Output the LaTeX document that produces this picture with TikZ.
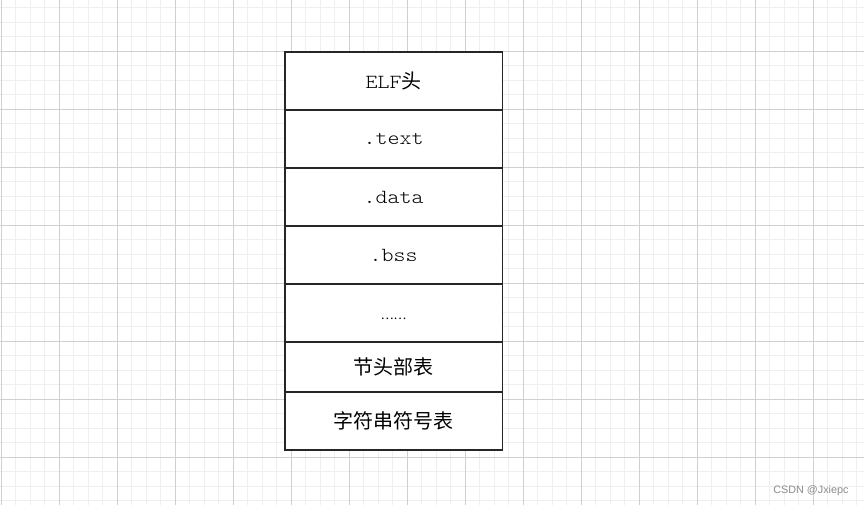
\documentclass[tikz,border=0pt]{standalone}
\usepackage{fontspec}
\newfontfamily\cour[FakeStretch=1.14]{Latin Modern Mono Light}
\newfontfamily\cjk{Noto Sans CJK SC}
\newfontfamily\wmfont{Liberation Sans}
\definecolor{minorgrid}{HTML}{EFEFEF}
\definecolor{majorgrid}{HTML}{D0D0D0}
\definecolor{boxline}{HTML}{262626}
\begin{document}
\begin{tikzpicture}[x=1pt,y=-1pt,
  minorline/.style={draw=minorgrid,line width=1pt},
  majorline/.style={draw=majorgrid,line width=1pt},
  cell/.style={draw=boxline,line width=1.3pt,fill=white,minimum width=217.3pt,inner sep=0pt,
    font=\fontsize{20}{24}\selectfont},
  watermark/.style={text=black!45,font=\wmfont\fontsize{10.8}{13}\selectfont,inner sep=0pt}]
\useasboundingbox (0,0) rectangle (864,505);
\fill[white] (0,0) rectangle (864,505);
\foreach \x in {1.3,15.8,...,864} \draw[minorline] (\x,0) -- (\x,505);
\foreach \y in {7.8,22.3,...,505} \draw[minorline] (0,\y) -- (864,\y);
\foreach \x in {1.3,59.3,...,864} \draw[majorline] (\x,0) -- (\x,505);
\foreach \y in {-6.7,51.3,...,505} \draw[majorline] (0,\y) -- (864,\y);
\node[cell,minimum height=58pt] (elf) at (393.65,81) {\cour ELF\cjk 头};
\node[cell,minimum height=58pt] (text) at (393.65,139) {\cour .text};
\node[cell,minimum height=58pt] (data) at (393.65,197) {\cour .data};
\node[cell,minimum height=58pt] (bss) at (393.65,255) {\cour .bss};
\node[cell,minimum height=58pt] (more) at (393.65,313) {\cjk\fontsize{12}{14}\selectfont\raisebox{-6pt}[0pt][0pt]{……}};
\node[cell,minimum height=50pt] (shdr) at (393.65,367) {\cjk 节头部表};
\node[cell,minimum height=58pt] (strtab) at (393.65,421) {\cjk 字符串符号表};
\node[watermark,anchor=east] (wm) at (848.7,490.7) {CSDN @Jxiepc};
\end{tikzpicture}
\end{document}
